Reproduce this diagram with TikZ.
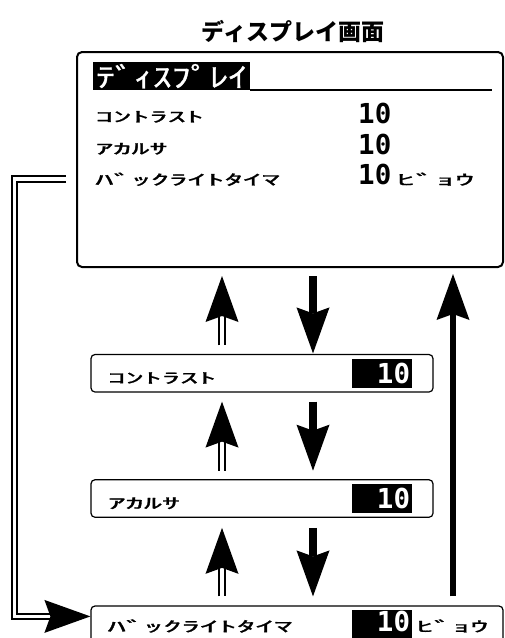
\documentclass[tikz,border=0pt]{standalone}
\usepackage{fontspec}
\usepackage{graphicx}
\usetikzlibrary{arrows.meta}
\newfontfamily\jpfont{Noto Sans CJK JP}
\newfontfamily\lcdjpfont[FakeBold=1]{Noto Sans CJK JP}
\newfontfamily\lcdnumfont[Numbers=SlashedZero]{DejaVu Sans Mono}
\newcommand\lcdsmall[2][2.5]{\scalebox{#1}[1]{\lcdjpfont\fontsize{14.5}{14.5}\selectfont #2}}
\newcommand\lcdlarge[2][1.4]{\scalebox{#1}[1]{\lcdjpfont\fontsize{27}{27}\selectfont #2}}
\newcommand\lcdnum[1]{{\lcdnumfont\bfseries\fontsize{27.5}{27.5}\selectfont #1}}
\begin{document}
\begin{tikzpicture}[x=1pt,y=-1pt,
  mainbox/.style={draw, line width=2pt, rounded corners=5pt, inner sep=0pt, minimum width=426pt, minimum height=215pt},
  itembox/.style={draw, line width=1.2pt, rounded corners=4pt, inner sep=0pt, minimum height=37.5pt},
  valfield/.style={fill=black, inner sep=0pt, minimum width=60pt, minimum height=29pt},
  hdrfield/.style={fill=black, text=white, inner sep=0pt, minimum width=157pt, minimum height=28pt, anchor=north west},
  lcdtext/.style={inner sep=0pt, anchor=base west},
  lcdval/.style={inner sep=0pt, anchor=base east, text=white},
  bighead/.style={-{Stealth[length=46pt,width=33pt,inset=6pt,line width=0pt]}},
  dblline/.style={double=white, double distance=3.5pt, line width=1.8pt},
  fatshaft/.style={line width=7.5pt},
  tallshaft/.style={line width=6pt},
]
\useasboundingbox (0,0) rectangle (505,638);
\clip (0,0) rectangle (505,638);
\node[font=\jpfont\bfseries\fontsize{23}{23}\selectfont] (title) at (293,31) {ディスプレイ画面};
\node[mainbox] (disp) at (290,159.5) {};
\node[hdrfield] (hdr) at (93,62) {\lcdlarge{ﾃﾞｨｽﾌﾟﾚｲ}};
\draw[line width=2pt] (hdr.south east) -- ++(242,0);
\node[lcdtext] (r1) at (95,122) {\lcdsmall{ｺﾝﾄﾗｽﾄ}};
\node[lcdtext] (r2) at (95,154) {\lcdsmall{ｱｶﾙｻ}};
\node[lcdtext] (r3) at (95,185) {\lcdsmall[2.55]{ﾊﾞｯｸﾗｲﾄﾀｲﾏ}};
\node[lcdtext] (v1) at (358,123) {\lcdnum{10}};
\node[lcdtext] (v2) at (358,154) {\lcdnum{10}};
\node[lcdtext] (v3) at (358,184) {\lcdnum{10}};
\node[lcdtext] (u3) at (396,185) {\lcdsmall[2.7]{ﾋﾞｮｳ}};
% item boxes
\node[itembox, minimum width=342pt] (b1) at (262,373.25) {};
\node[itembox, minimum width=342pt] (b2) at (262,498.5) {};
\node[itembox, minimum width=412pt] (b3) at (297,624.75) {};
\node[valfield] (f1) at ([xshift=-52pt]b1.east) {};
\node[valfield] (f2) at ([xshift=-52pt]b2.east) {};
\node[valfield] (f3) at ([xshift=-122pt]b3.east) {};
\node[lcdtext] (l1) at ([shift={(17,10)}]b1.west) {\lcdsmall{ｺﾝﾄﾗｽﾄ}};
\node[lcdtext] (l2) at ([shift={(17,10)}]b2.west) {\lcdsmall{ｱｶﾙｻ}};
\node[lcdtext] (l3) at ([shift={(17,7)}]b3.west) {\lcdsmall[2.55]{ﾊﾞｯｸﾗｲﾄﾀｲﾏ}};
\node[lcdval] (n1) at ([shift={(-1.5,10)}]f1.east) {\lcdnum{10}};
\node[lcdval] (n2) at ([shift={(-1.5,10)}]f2.east) {\lcdnum{10}};
\node[lcdval] (n3) at ([shift={(-1.5,6.5)}]f3.east) {\lcdnum{10}};
\node[lcdtext] (u4) at ([shift={(4,7)}]f3.east) {\lcdsmall[2.5]{ﾋﾞｮｳ}};
% arrow columns
\coordinate (ux) at (222,0);
\coordinate (dx) at (313,0);
\coordinate (rx) at (453,0);
\draw[dblline,bighead,shorten <=8.5pt,shorten >=8pt] (b1.north -| ux) -- (disp.south -| ux);
\draw[fatshaft,bighead,shorten <=8pt,shorten >=0.5pt] (disp.south -| dx) -- (b1.north -| dx);
\draw[dblline,bighead,shorten <=8.5pt,shorten >=9pt] (b2.north -| ux) -- (b1.south -| ux);
\draw[fatshaft,bighead,shorten <=9pt,shorten >=8.5pt] (b1.south -| dx) -- (b2.north -| dx);
\draw[dblline,bighead,shorten <=9pt,shorten >=10pt] (b3.north -| ux) -- (b2.south -| ux);
\draw[fatshaft,bighead,shorten <=10pt,shorten >=9pt] (b2.south -| dx) -- (b3.north -| dx);
\draw[tallshaft,bighead,shorten <=9pt,shorten >=6pt] (b3.north -| rx) -- (disp.south -| rx);
% loop back connector
\coordinate (ls) at ([shift={(-10,128)}]disp.north west);
\coordinate (lt) at ([shift={(0,11)}]b3.north west);
\coordinate (lx) at (14.5,0);
\draw[dblline,bighead] (ls) -- (ls -| lx) -- (lx |- lt) -- (lt);
\end{tikzpicture}
\end{document}
